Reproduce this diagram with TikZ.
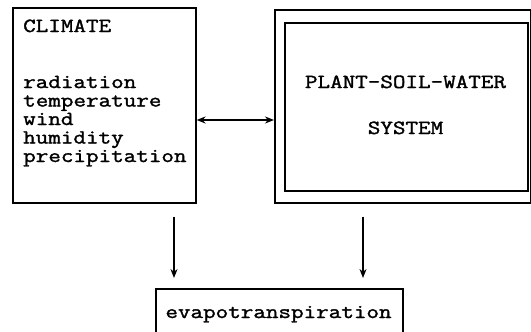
\documentclass[tikz,border=0pt]{standalone}
\usepackage{fontspec}
\newfontfamily\tw[FakeStretch=1.22,FakeBold=1.6]{Latin Modern Mono}
\usetikzlibrary{arrows.meta}
\begin{document}
\begin{tikzpicture}[x=1pt,y=-1pt,
  box/.style={draw,line width=1.6pt,inner sep=0pt,anchor=north west},
  txt/.style={inner sep=0pt,anchor=base west,font=\tw\fontsize{20}{20}\selectfont},
  ctxt/.style={inner sep=0pt,anchor=base,font=\tw\fontsize{20}{20}\selectfont},
  arr/.style={line width=1.5pt,-{Stealth[length=9pt,width=7pt]}},
  darr/.style={line width=1.5pt,{Stealth[length=9pt,width=7pt]}-{Stealth[length=9pt,width=7pt]}}]
\useasboundingbox (0,0) rectangle (531,332);
\clip (0,0) rectangle (531,332);
% boxes
\node[box,minimum width=183pt,minimum height=195pt] (clim) at (12,7) {};
\node[box,minimum width=256pt,minimum height=193pt] (outer) at (274,9) {};
\node[box,minimum width=243pt,minimum height=168pt] (inner) at (284,22) {};
\node[box,minimum width=247pt,minimum height=60pt] (evap) at (155,288) {};
% climate texts
\node[txt] (t0) at (23,32) {CLIMATE};
\node[txt] (t1) at (23,88) {radiation};
\node[txt] (t2) at (23,106.5) {temperature};
\node[txt] (t3) at (23,125) {wind};
\node[txt] (t4) at (23,143.5) {humidity};
\node[txt] (t5) at (23,162) {precipitation};
% system texts
\node[ctxt] (s1) at (405.5,88) {PLANT-SOIL-WATER};
\node[ctxt] (s2) at (405.5,134) {SYSTEM};
% evap text
\node[ctxt] (e1) at (278.5,318) {evapotranspiration};
% connectors
\coordinate (ay) at (0,120);
\coordinate (d1) at (174,0);
\coordinate (d2) at (363,0);
\draw[darr] (clim.east |- ay) -- (outer.west |- ay);
\draw[arr,shorten <=13pt,shorten >=10pt] (clim.south -| d1) -- (evap.north -| d1);
\draw[arr,shorten <=13pt,shorten >=10pt] (outer.south -| d2) -- (evap.north -| d2);
\end{tikzpicture}
\end{document}
